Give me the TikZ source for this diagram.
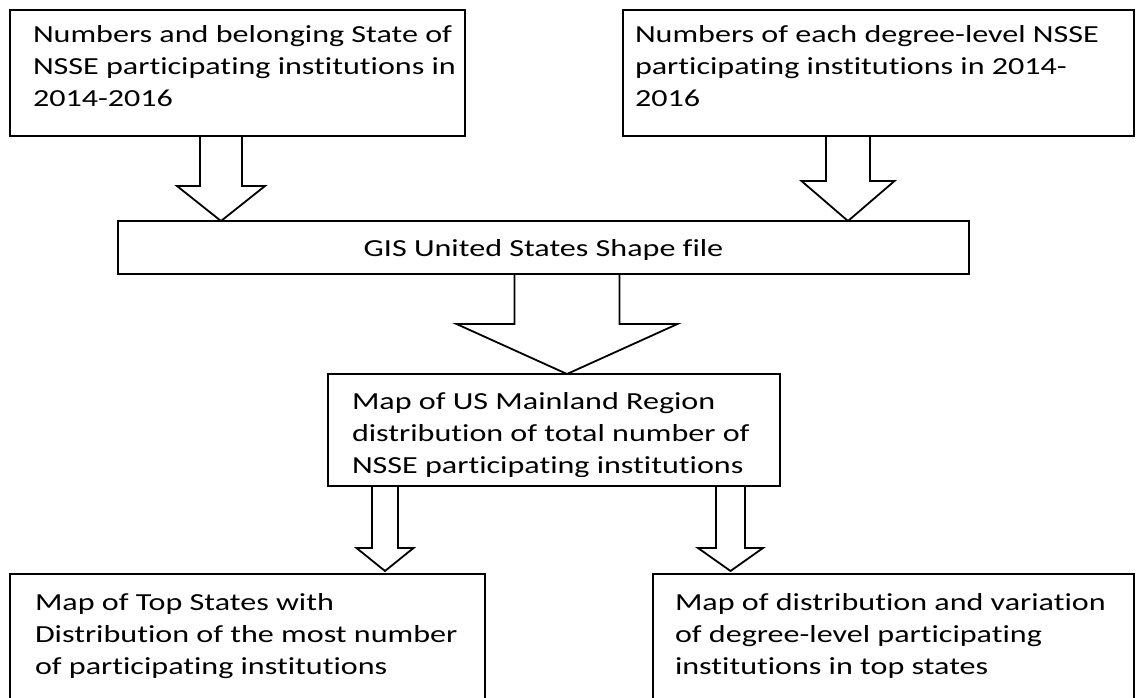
\documentclass[tikz,border=0pt]{standalone}
\usepackage{fontspec}
\newfontfamily\diafont[FakeStretch=1.31,Ligatures=NoCommon]{Carlito}
\usetikzlibrary{calc}
\tikzset{
  box/.style={draw, line width=1.8pt, inner sep=0pt, outer sep=0pt, anchor=north west},
  txt/.style={inner sep=0pt, outer sep=0pt, anchor=base west, text=black,
    font=\diafont\fontsize{24.5}{32}\selectfont},
  arrowshape/.style={draw, line width=1.8pt, line join=miter},
}
\newcommand\blockarrow[7]{%
  \draw[arrowshape] let \p1=(#1 -| #3), \p2=(#2 -| #3) in
  (\x1-#4pt,\y1) -- (\x1-#4pt,\y2+#7pt+#6pt) -- (\x1-#5pt,\y2+#7pt+#6pt) --
  (\x1,\y2+#7pt) -- (\x1+#5pt,\y2+#7pt+#6pt) -- (\x1+#4pt,\y2+#7pt+#6pt) -- (\x1+#4pt,\y1);}
\newcommand\lns[1]{\begin{tabular}[t]{@{}l@{}}#1\end{tabular}}
\begin{document}
\begin{tikzpicture}[x=1pt,y=-1pt]
\useasboundingbox[fill=white] (0,0) rectangle (1136,698);
% boxes
\node[box, minimum width=455pt, minimum height=126pt] (b1) at (10,10) {};
\node[box, minimum width=511pt, minimum height=126pt] (b2) at (623,10) {};
\node[box, minimum width=851pt, minimum height=53pt] (gis) at (118,221) {};
\node[box, minimum width=452pt, minimum height=112pt] (mid) at (328,374) {};
\node[box, minimum width=475pt, minimum height=140pt] (b3) at (10,574) {};
\node[box, minimum width=481pt, minimum height=140pt] (b4) at (653,574) {};
% texts
\node[txt] (t1) at (33,43) {\lns{Numbers and belonging State of\\NSSE participating institutions in\\2014-2016}};
\node[txt] (t2) at (635,43) {\lns{Numbers of each degree-level NSSE\\participating institutions in 2014-\\2016}};
\node[txt, anchor=base] (tg) at (543.5,256) {GIS United States Shape file};
\begin{scope}
  \clip (328,374) rectangle (780,476);
  \node[txt] (tm) at (352,409) {\lns{Map of US Mainland Region\\distribution of total number of\\NSSE participating institutions}};
\end{scope}
\node[txt] (t3) at (35,610) {\lns{Map of Top States with\\Distribution of the most number\\of participating institutions}};
\node[txt] (t4) at (675,610) {\lns{Map of distribution and variation\\of degree-level participating\\institutions in top states}};
% arrow axes
\coordinate (ax1) at (221,0);
\coordinate (ax2) at (848,0);
\coordinate (ax3) at (567,0);
\coordinate (ax4) at (385,0);
\coordinate (ax5) at (730.5,0);
% arrows
\blockarrow{b1.south}{gis.north}{ax1}{21}{44}{35}{0}
\blockarrow{b2.south}{gis.north}{ax2}{22}{46.5}{40}{0}
\blockarrow{gis.south}{mid.north}{ax3}{52.5}{110.5}{50}{0}
\blockarrow{mid.south}{b3.north}{ax4}{13}{28.5}{23}{3}
\blockarrow{mid.south}{b4.north}{ax5}{14.5}{32.5}{23}{3}
\end{tikzpicture}
\end{document}
